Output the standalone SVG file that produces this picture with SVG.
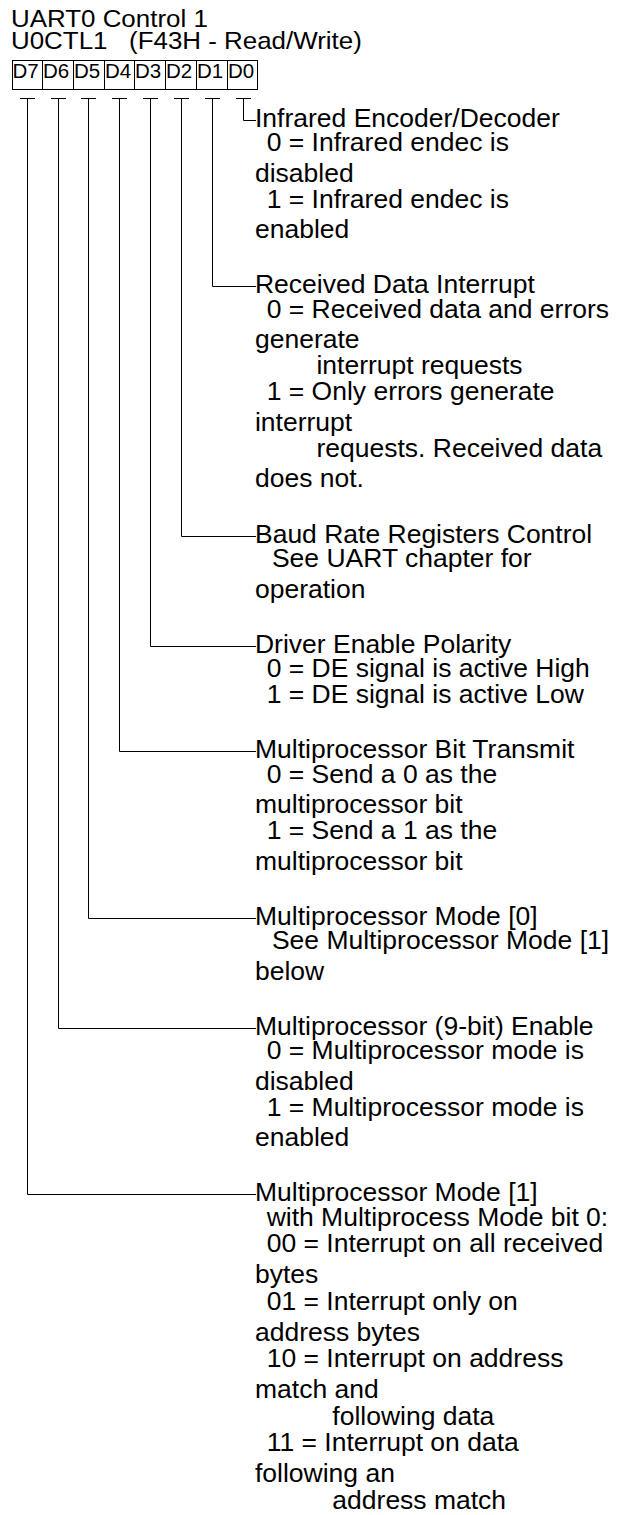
<svg xmlns="http://www.w3.org/2000/svg" width="625" height="1515" viewBox="0 0 625 1515">
<style>
text{font-family:"Liberation Sans",Arial,Helvetica,sans-serif;fill:#000}
.t{font-size:25px}
.h{font-size:24px}
.d{font-size:20.5px}
.ln{fill:none;stroke:#000;stroke-width:1}
</style>
<rect width="625" height="1515" fill="#fff"/>
<g id="title" transform="translate(11 0) scale(1.08 1) translate(-11 0)">
<text class="h" x="11" y="27">UART0 Control 1</text>
<text class="h" x="11" y="49.5" xml:space="preserve">U0CTL1   (F43H - Read/Write)</text>
</g>
<g id="register">
<rect class="ln" x="12.5" y="60.5" width="245" height="29"/>
<path class="ln" d="M42.5 60.5V89.5M73.5 60.5V89.5M104.5 60.5V89.5M134.5 60.5V89.5M165.5 60.5V89.5M196.5 60.5V89.5M227.5 60.5V89.5"/>
<text class="d" x="12.5" y="78">D7</text>
<text class="d" x="43" y="78">D6</text>
<text class="d" x="74" y="78">D5</text>
<text class="d" x="105" y="78">D4</text>
<text class="d" x="135" y="78">D3</text>
<text class="d" x="166" y="78">D2</text>
<text class="d" x="197" y="78">D1</text>
<text class="d" x="228" y="78">D0</text>
</g>
<g id="connectors">
<path class="ln" d="M20 98.5H35M27.5 98.5V1194.5H256"/>
<path class="ln" d="M51 98.5H66M58.5 98.5V1028.5H256"/>
<path class="ln" d="M81 98.5H96M88.5 98.5V918.5H256"/>
<path class="ln" d="M112 98.5H127M119.5 98.5V751.5H256"/>
<path class="ln" d="M143 98.5H158M150.5 98.5V646.5H256"/>
<path class="ln" d="M174 98.5H189M181.5 98.5V536.5H256"/>
<path class="ln" d="M205 98.5H220M212.5 98.5V286.5H256"/>
<path class="ln" d="M236 98.5H251M243.5 98.5V120.5H256"/>
</g>
<g transform="translate(255 0) scale(1.06 1) translate(-255 0)">
<g id="bit-d0">
<text class="t" x="255" y="127">Infrared Encoder/Decoder</text>
<text class="t" x="266" y="151.5">0 = Infrared endec is</text>
<text class="t" x="255" y="182">disabled</text>
<text class="t" x="266" y="208">1 = Infrared endec is</text>
<text class="t" x="255" y="238.5">enabled</text>
</g>
<g id="bit-d1">
<text class="t" x="255" y="293.5">Received Data Interrupt</text>
<text class="t" x="266" y="318">0 = Received data and errors</text>
<text class="t" x="255" y="348.5">generate</text>
<text class="t" x="313" y="374.5">interrupt requests</text>
<text class="t" x="266" y="400.5">1 = Only errors generate</text>
<text class="t" x="255" y="431">interrupt</text>
<text class="t" x="313" y="457">requests. Received data</text>
<text class="t" x="255" y="487.5">does not.</text>
</g>
<g id="bit-d2">
<text class="t" x="255" y="543">Baud Rate Registers Control</text>
<text class="t" x="271" y="567.5">See UART chapter for</text>
<text class="t" x="255" y="598">operation</text>
</g>
<g id="bit-d3">
<text class="t" x="255" y="653">Driver Enable Polarity</text>
<text class="t" x="266" y="677.5">0 = DE signal is active High</text>
<text class="t" x="266" y="703.5">1 = DE signal is active Low</text>
</g>
<g id="bit-d4">
<text class="t" x="255" y="758.5">Multiprocessor Bit Transmit</text>
<text class="t" x="266" y="783">0 = Send a 0 as the</text>
<text class="t" x="255" y="813.5">multiprocessor bit</text>
<text class="t" x="266" y="839.5">1 = Send a 1 as the</text>
<text class="t" x="255" y="870">multiprocessor bit</text>
</g>
<g id="bit-d5">
<text class="t" x="255" y="925">Multiprocessor Mode [0]</text>
<text class="t" x="271" y="949.5">See Multiprocessor Mode [1]</text>
<text class="t" x="255" y="980">below</text>
</g>
<g id="bit-d6">
<text class="t" x="255" y="1035">Multiprocessor (9-bit) Enable</text>
<text class="t" x="266" y="1059.5">0 = Multiprocessor mode is</text>
<text class="t" x="255" y="1090">disabled</text>
<text class="t" x="266" y="1116">1 = Multiprocessor mode is</text>
<text class="t" x="255" y="1146.5">enabled</text>
</g>
<g id="bit-d7">
<text class="t" x="255" y="1201.5">Multiprocessor Mode [1]</text>
<text class="t" x="266" y="1226">with Multiprocess Mode bit 0:</text>
<text class="t" x="266" y="1252.5">00 = Interrupt on all received</text>
<text class="t" x="255" y="1283.5">bytes</text>
<text class="t" x="266" y="1310">01 = Interrupt only on</text>
<text class="t" x="255" y="1341">address bytes</text>
<text class="t" x="266" y="1367.5">10 = Interrupt on address</text>
<text class="t" x="255" y="1398.5">match and</text>
<text class="t" x="328" y="1425">following data</text>
<text class="t" x="266" y="1451.5">11 = Interrupt on data</text>
<text class="t" x="255" y="1482.5">following an</text>
<text class="t" x="328" y="1509">address match</text>
</g>
</g>
</svg>
